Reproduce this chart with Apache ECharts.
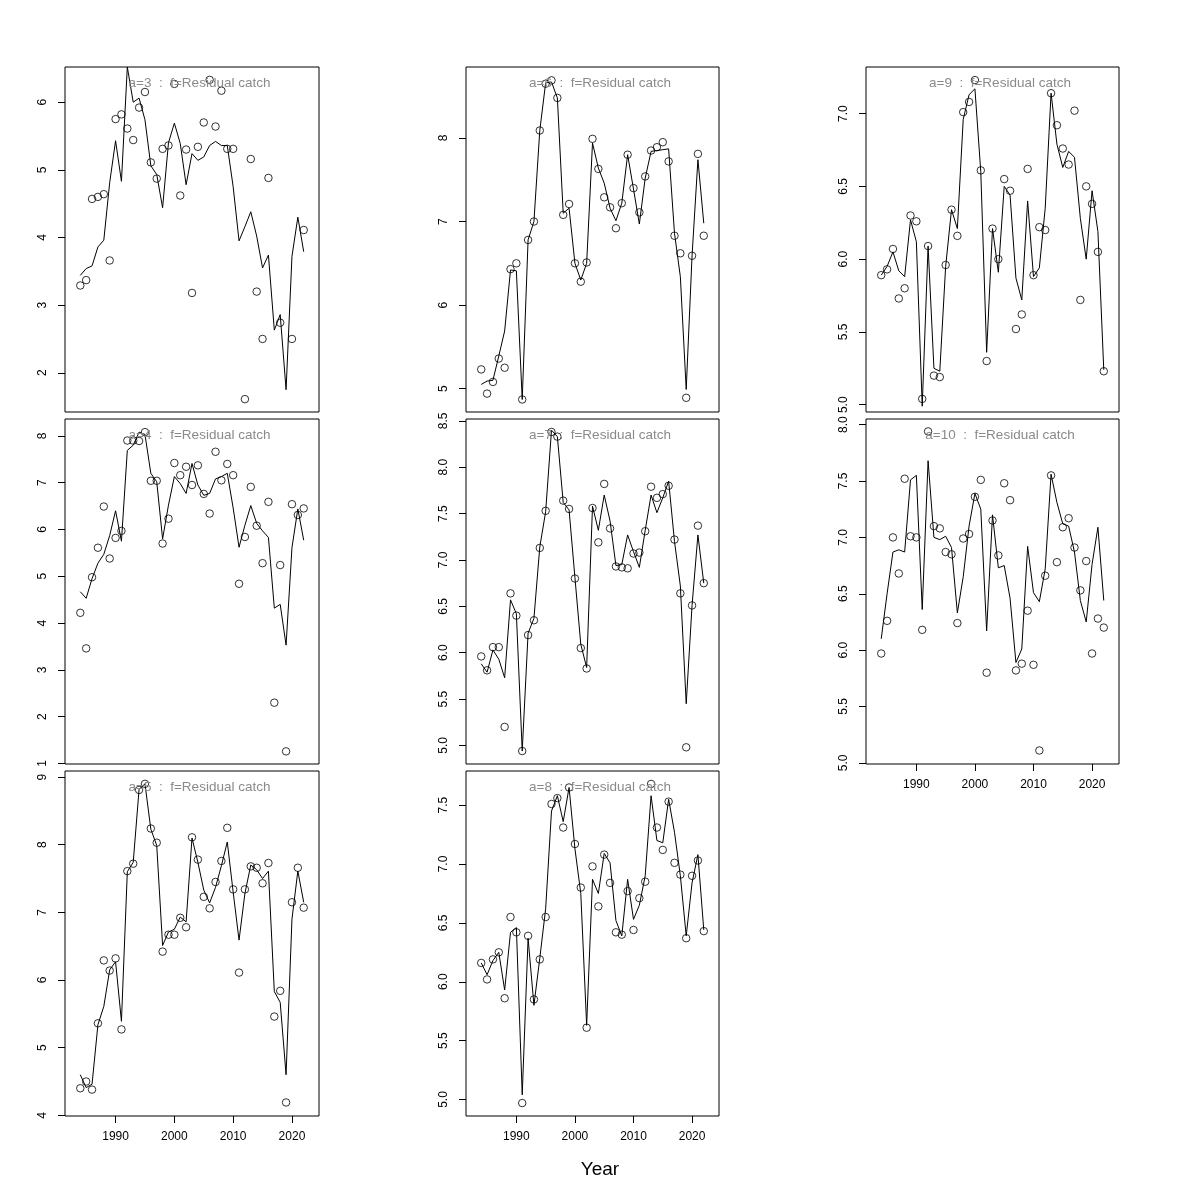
<!DOCTYPE html>
<html>
<head>
<meta charset="utf-8">
<script src="https://cdn.jsdelivr.net/npm/echarts@6/dist/echarts.min.js"></script>
<style>html,body{margin:0;padding:0;background:#fff}#c{width:1200px;height:1200px}</style>
</head>
<body>
<div id="c"></div>
<script>
const years = [1984,1985,1986,1987,1988,1989,1990,1991,1992,1993,1994,1995,1996,1997,1998,1999,2000,2001,2002,2003,2004,2005,2006,2007,2008,2009,2010,2011,2012,2013,2014,2015,2016,2017,2018,2019,2020,2021,2022];
const xTicks = [1990, 2000, 2010, 2020];

const obsA3 = [3.29,3.37,4.57,4.60,4.64,3.66,5.75,5.82,5.61,5.44, 5.92,6.15,5.11,4.87,5.31,5.36,6.27,4.62,5.30,3.18, 5.34,5.70,6.33,5.64,6.17,5.31,5.31,null,1.61,5.16, 3.20,2.50,4.88,null,2.74,null,2.50,null,4.11];
const fitA3 = [3.44,3.54,3.58,3.86,3.96,4.81,5.43,4.83,6.52,6.00, 6.06,5.74,5.06,4.93,4.44,5.40,5.69,5.39,4.78,5.24, 5.14,5.19,5.36,5.42,5.36,5.36,4.75,3.95,4.16,4.38, 4.02,3.55,3.74,2.63,2.86,1.75,3.72,4.30,3.79];

const obsA4 = [4.22,3.46,4.98,5.61,6.49,5.38,5.82,5.97,7.90,7.90, 7.89,8.08,7.04,7.04,5.70,6.23,7.42,7.16,7.34,6.95, 7.37,6.76,6.34,7.66,7.05,7.40,7.16,4.84,5.84,6.91, 6.08,5.28,6.59,2.30,5.24,1.26,6.54,6.31,6.45];
const fitA4 = [4.67,4.53,4.95,5.28,5.47,5.87,6.40,5.75,7.69,7.80, 8.08,8.03,7.20,7.02,5.80,6.52,7.13,6.98,6.77,7.41, 6.95,6.73,6.77,7.08,7.13,7.20,6.46,5.62,6.09,6.51, 6.13,5.97,5.83,4.32,4.40,3.53,5.61,6.44,5.77];

const obsA5 = [4.40,4.50,4.38,5.36,6.29,6.14,6.32,5.27,7.61,7.72, 8.81,8.90,8.24,8.03,6.42,6.67,6.67,6.92,6.78,8.11, 7.78,7.23,7.06,7.45,7.76,8.25,7.34,6.11,7.34,7.68, 7.66,7.43,7.73,5.46,5.84,4.19,7.15,7.66,7.07];
const fitA5 = [4.60,4.41,4.46,5.34,5.61,6.15,6.27,5.39,7.60,7.74, 8.82,8.90,8.23,7.99,6.51,6.71,6.75,6.93,6.86,8.10, 7.74,7.33,7.14,7.37,7.69,8.04,7.30,6.59,7.28,7.70, 7.63,7.50,7.61,5.83,5.67,4.60,6.90,7.61,7.15];

const obsA6 = [5.23,4.94,5.08,5.36,5.25,6.43,6.50,4.87,6.78,7.00, 8.09,8.65,8.69,8.48,7.08,7.21,6.50,6.28,6.51,7.99, 7.63,7.29,7.17,6.92,7.22,7.80,7.40,7.11,7.54,7.85, 7.89,7.95,7.72,6.83,6.62,4.89,6.59,7.81,6.83];
const fitA6 = [5.05,5.09,5.10,5.39,5.69,6.42,6.41,4.87,6.78,7.00, 8.09,8.66,8.67,8.48,7.10,7.16,6.50,6.30,6.50,7.94, 7.64,7.46,7.16,7.01,7.22,7.80,7.39,6.97,7.52,7.84, 7.85,7.86,7.87,6.86,6.34,4.99,6.59,7.74,6.98];

const obsA7 = [5.96,5.81,6.06,6.06,5.20,6.64,6.40,4.94,6.19,6.35, 7.13,7.53,8.38,8.33,7.64,7.55,6.80,6.05,5.83,7.56, 7.19,7.82,7.34,6.93,6.92,6.91,7.07,7.08,7.31,7.79, 7.67,7.71,7.80,7.22,6.64,4.98,6.51,7.37,6.75];
const fitA7 = [5.88,5.79,6.03,5.93,5.73,6.57,6.42,4.94,6.21,6.37, 7.14,7.52,8.40,8.33,7.62,7.54,6.81,6.09,5.84,7.58, 7.32,7.70,7.42,6.94,6.95,7.27,7.09,6.92,7.32,7.70, 7.51,7.67,7.85,7.20,6.72,5.45,6.51,7.27,6.75];

const obsA8 = [6.16,6.02,6.19,6.25,5.86,6.55,6.42,4.97,6.39,5.85, 6.19,6.55,7.51,7.56,7.31,7.65,7.17,6.80,5.61,6.98, 6.64,7.08,6.84,6.42,6.40,6.77,6.44,6.71,6.85,7.68, 7.31,7.12,7.53,7.01,6.91,6.37,6.90,7.03,6.43];
const fitA8 = [6.16,6.06,6.18,6.25,5.93,6.42,6.46,5.04,6.37,5.80, 6.20,6.62,7.45,7.58,7.36,7.65,7.13,6.75,5.63,6.87, 6.75,7.09,7.01,6.52,6.39,6.87,6.53,6.65,6.90,7.58, 7.20,7.18,7.55,7.27,6.90,6.39,6.84,7.08,6.44];

const obsA9 = [5.89,5.93,6.07,5.73,5.80,6.30,6.26,5.04,6.09,5.20, 5.19,5.96,6.34,6.16,7.01,7.08,7.23,6.61,5.30,6.21, 6.00,6.55,6.47,5.52,5.62,6.62,5.89,6.22,6.20,7.14, 6.92,6.76,6.65,7.02,5.72,6.50,6.38,6.05,5.23];
const fitA9 = [5.89,5.95,6.05,5.92,5.88,6.27,6.12,4.99,6.09,5.25, 5.23,5.95,6.34,6.21,6.96,7.13,7.17,6.60,5.36,6.21, 5.91,6.50,6.44,5.87,5.72,6.40,5.88,5.94,6.35,7.14, 6.79,6.63,6.74,6.70,6.28,6.00,6.47,6.19,5.24];

const obsA10 = [5.97,6.26,7.00,6.68,7.52,7.01,7.00,6.18,7.94,7.10, 7.08,6.87,6.85,6.24,6.99,7.03,7.36,7.51,5.80,7.15, 6.84,7.48,7.33,5.82,5.88,6.35,5.87,5.11,6.66,7.55, 6.78,7.09,7.17,6.91,6.53,6.79,5.97,6.28,6.20];
const fitA10 = [6.10,6.50,6.87,6.89,6.87,7.51,7.55,6.36,7.68,7.00, 6.98,7.01,6.91,6.33,6.65,7.10,7.39,7.25,6.17,7.20, 6.73,6.75,6.46,5.89,6.01,6.92,6.51,6.43,6.72,7.56, 7.31,7.12,7.10,6.87,6.44,6.25,6.76,7.09,6.44];

const ticksA3 = [2,3,4,5,6];
const ticksA4 = [1,2,3,4,5,6,7,8];
const ticksA5 = [4,5,6,7,8,9];
const ticksA6 = [5,6,7,8];
const ticksA7 = [5.0,5.5,6.0,6.5,7.0,7.5,8.0,8.5];
const ticksA8 = [5.0,5.5,6.0,6.5,7.0,7.5];
const ticksA9 = [5.0,5.5,6.0,6.5,7.0];
const ticksA10 = [5.0,5.5,6.0,6.5,7.0,7.5,8.0];

const panelLabels = ['a=3  :  f=Residual catch','a=4  :  f=Residual catch','a=5  :  f=Residual catch','a=6  :  f=Residual catch','a=7  :  f=Residual catch','a=8  :  f=Residual catch','a=9  :  f=Residual catch','a=10  :  f=Residual catch'];
const xLabel = 'Year';

// layout
const colLeft = [65, 466, 866];
const colW = [254, 253, 253];
const rowTop = [67, 419, 771];
const rowH = 345;
const xMin = 1981.4, xMax = 2024.6;
const FONT = '"Liberation Sans", Arial, Helvetica, sans-serif';

const panels = [
  {obs: obsA3, fit: fitA3, ticks: ticksA3, lim: [1.42, 6.52], dec: 0, col: 0, row: 0, showX: false},
  {obs: obsA4, fit: fitA4, ticks: ticksA4, lim: [0.99, 8.36], dec: 0, col: 0, row: 1, showX: false},
  {obs: obsA5, fit: fitA5, ticks: ticksA5, lim: [3.99, 9.09], dec: 0, col: 0, row: 2, showX: true},
  {obs: obsA6, fit: fitA6, ticks: ticksA6, lim: [4.72, 8.85], dec: 0, col: 1, row: 0, showX: false},
  {obs: obsA7, fit: fitA7, ticks: ticksA7, lim: [4.80, 8.52], dec: 1, col: 1, row: 1, showX: false},
  {obs: obsA8, fit: fitA8, ticks: ticksA8, lim: [4.86, 7.79], dec: 1, col: 1, row: 2, showX: true},
  {obs: obsA9, fit: fitA9, ticks: ticksA9, lim: [4.95, 7.32], dec: 1, col: 2, row: 0, showX: false},
  {obs: obsA10, fit: fitA10, ticks: ticksA10, lim: [4.99, 8.05], dec: 1, col: 2, row: 1, showX: true}
];

const chart = echarts.init(document.getElementById('c'), null, {renderer: 'canvas'});

const grid = panels.map(p => ({
  left: colLeft[p.col], top: rowTop[p.row], width: colW[p.col], height: rowH,
  show: true, borderColor: '#000', borderWidth: 1, backgroundColor: 'transparent',
  containLabel: false, outerBoundsMode: 'none'
}));

const xAxis = panels.map((p, i) => ({
  type: 'value', gridIndex: i, min: xMin, max: xMax,
  splitLine: {show: false},
  axisLine: {show: false},
  axisTick: {show: p.showX, length: 7, lineStyle: {color: '#000', width: 1}, customValues: xTicks},
  axisLabel: {show: p.showX, customValues: xTicks, margin: 15, color: '#000', fontSize: 12, fontFamily: FONT,
    formatter: v => String(v)}
}));

const yAxis = panels.map((p, i) => ({
  type: 'value', gridIndex: i, min: p.lim[0], max: p.lim[1],
  splitLine: {show: false},
  axisLine: {show: false},
  axisTick: {show: true, length: 7, lineStyle: {color: '#000', width: 1}, customValues: p.ticks},
  axisLabel: {show: true, customValues: p.ticks, rotate: 90, margin: 16.5, color: '#000', fontSize: 12, fontFamily: FONT,
    formatter: v => Number(v).toFixed(p.dec)}
}));

const series = [];
panels.forEach((p, i) => {
  series.push({
    type: 'line', xAxisIndex: i, yAxisIndex: i,
    data: years.map((y, k) => [y, p.fit[k]]),
    showSymbol: false, symbol: 'none', clip: true, silent: true,
    lineStyle: {color: '#000', width: 1},
    emphasis: {disabled: true}
  });
  series.push({
    type: 'scatter', xAxisIndex: i, yAxisIndex: i,
    data: years.map((y, k) => [y, p.obs[k]]).filter(d => d[1] !== null),
    symbol: 'circle', symbolSize: 7.5, silent: true,
    itemStyle: {color: 'rgba(255,255,255,0)', borderColor: '#000', borderWidth: 1},
    emphasis: {disabled: true}
  });
});

const graphic = panels.map((p, i) => ({
  type: 'text',
  x: colLeft[p.col] + colW[p.col] / 2 + 7.5,
  y: rowTop[p.row] + 16.5,
  z: 100,
  style: {text: panelLabels[i], fill: '#8a8a8a', fontSize: 13.5, fontFamily: FONT, align: 'center', verticalAlign: 'middle'}
}));
graphic.push({
  type: 'text', x: 600, y: 1170, z: 100,
  style: {text: xLabel, fill: '#000', fontSize: 19, fontFamily: FONT, align: 'center', verticalAlign: 'middle'}
});

chart.setOption({
  animation: false,
  backgroundColor: '#fff',
  grid, xAxis, yAxis, series, graphic
});
</script>
</body>
</html>
